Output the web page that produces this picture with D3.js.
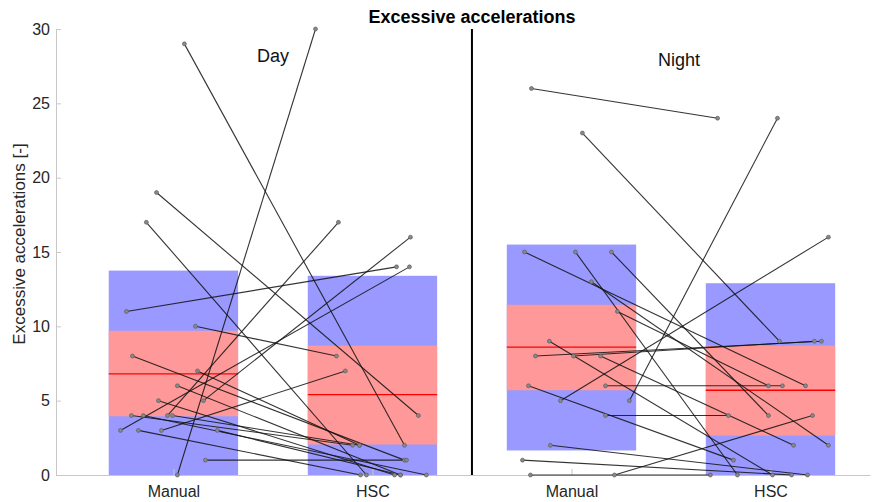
<!DOCTYPE html>
<html lang="en">
<head>
    <meta charset="UTF-8">
    <title>Excessive accelerations</title>
    <style>
        body { margin: 0; background: #fff; }
        #chart-wrapper { width: 877px; height: 502px; }
        text { font-family: 'Liberation Sans', Arial, sans-serif; }
    </style>
</head>
<body>
    <div id="chart-wrapper"></div>

    <script src="https://d3js.org/d3.v7.min.js"></script>
    <script>
        // box summary per column (Day Manual, Day HSC, Night Manual, Night HSC)
        const columns = ['Manual', 'HSC', 'Manual', 'HSC']
        const whiskLow = [0, 0, 1.65, 0]
        const whiskHigh = [13.75, 13.4, 15.5, 12.9]
        const q1 = [3.95, 2.05, 5.7, 2.65]
        const q3 = [9.7, 8.7, 11.45, 8.7]
        const medians = [6.8, 5.4, 8.6, 5.7]

        // paired observations, day
        const dayManual = [29, 19, 17, 11, 10, 8, 7, 6, 5, 5, 4, 4, 4, 4, 3, 3, 3, 3, 1, 0]
        const dayHSC = [2, 4, 0, 14, 8, 1, 2, 0, 16, 0, 2, 0, 17, 2, 14, 0, 7, 0, 1, 30]
        const dayManualJitter = [0.055, -0.085, -0.136, -0.236, 0.111, -0.206, 0.121, 0.02, 0.151, -0.075,
            -0.211, -0.151, -0.03, -0.005, -0.266, -0.176, -0.06, 0.221, 0.161, 0.02]
        const dayHSCJitter = [0.161, 0.231, -0.03, 0.121, -0.181, 0.161, -0.065, 0.141, 0.191, 0.111,
            -0.1, 0.271, -0.171, -0.065, 0.186, -0.06, -0.136, 0.141, 0.171, -0.286]

        // paired observations, night
        const nightManual = [26, 23, 15, 15, 15, 13, 11, 9, 8, 8, 8, 6, 6, 5, 5, 4, 2, 1, 0, 0]
        const nightHSC = [24, 9, 6, 0, 4, 2, 6, 0, 9, 9, 2, 1, 6, 16, 24, 4, 0, 0, 0, 4]
        const nightManualJitter = [-0.201, 0.055, -0.236, 0.02, 0.201, 0.1, 0.231, -0.111, -0.181, 0.01,
            0.146, -0.216, 0.171, -0.055, 0.291, 0.171, -0.106, -0.246, -0.206, 0.216]
        const nightHSCJitter = [-0.266, 0.045, 0.176, -0.166, -0.01, 0.291, -0.01, 0.01, 0.256, 0.221,
            0.116, -0.186, 0.06, 0.291, 0.035, -0.211, 0.186, 0.106, -0.302, 0.211]

        const yTicks = [0, 5, 10, 15, 20, 25, 30]
        const panelLabels = [{ text: 'Day', x: 1.5, y: 27.8 }, { text: 'Night', x: 3.54, y: 27.5 }]

        const width = 877
        const height = 502
        const margin = { top: 29, bottom: 27, left: 56, right: 7 }

        const svg = d3.select('#chart-wrapper')
            .append('svg')
            .attr('width', width)
            .attr('height', height)

        const x = d3.scaleLinear()
            .domain([0.41, 4.5])
            .range([margin.left, width - margin.right])

        const y = d3.scaleLinear()
            .domain([0, 30])
            .range([height - margin.bottom, margin.top])

        const boxW = 0.65

        // boxes
        const boxes = svg.append('g')
        columns.forEach((c, i) => {
            const cx = i + 1
            boxes.append('rect')
                .attr('x', x(cx - boxW / 2))
                .attr('width', x(cx + boxW / 2) - x(cx - boxW / 2))
                .attr('y', y(whiskHigh[i]))
                .attr('height', y(whiskLow[i]) - y(whiskHigh[i]))
                .attr('fill', '#9999ff')
            boxes.append('rect')
                .attr('x', x(cx - boxW / 2))
                .attr('width', x(cx + boxW / 2) - x(cx - boxW / 2))
                .attr('y', y(q3[i]))
                .attr('height', y(q1[i]) - y(q3[i]))
                .attr('fill', '#ff9999')
            boxes.append('line')
                .attr('x1', x(cx - boxW / 2))
                .attr('x2', x(cx + boxW / 2))
                .attr('y1', y(medians[i]))
                .attr('y2', y(medians[i]))
                .attr('stroke', '#ff0000')
                .attr('stroke-width', 1.3)
        })

        // axes
        const xAxis = svg.append('g')
            .attr('transform', `translate(0, ${ y(0) })`)
            .call(d3.axisBottom(x).tickValues([1, 2, 3, 4]).tickFormat((d, i) => columns[i])
                .tickSizeInner(-6).tickSizeOuter(0).tickPadding(11))
        xAxis.select('.domain').attr('stroke', '#c8c8c8')
        xAxis.selectAll('.tick line').attr('stroke', '#c8c8c8')
        xAxis.selectAll('text').attr('font-size', 16).attr('fill', '#262626')

        const yAxis = svg.append('g')
            .attr('transform', `translate(${ margin.left }, 0)`)
            .call(d3.axisLeft(y).tickValues(yTicks).tickSizeInner(-5).tickSizeOuter(0).tickPadding(6))
        yAxis.select('.domain').attr('stroke', '#c8c8c8')
        yAxis.selectAll('.tick line').attr('stroke', '#c8c8c8')
        yAxis.selectAll('text').attr('font-size', 16).attr('fill', '#262626')

        svg.append('text')
            .attr('transform', `translate(25, ${ y(15) - 8 }) rotate(-90)`)
            .attr('text-anchor', 'middle')
            .attr('font-size', 17)
            .attr('fill', '#262626')
            .text('Excessive accelerations [-]')

        // paired lines + points
        function drawPairs(manual, hsc, jm, jh, col) {
            const g = svg.append('g')
            manual.forEach((v, i) => {
                g.append('line')
                    .attr('x1', x(col + jm[i]))
                    .attr('y1', y(v))
                    .attr('x2', x(col + 1 + jh[i]))
                    .attr('y2', y(hsc[i]))
                    .attr('stroke', '#111')
                    .attr('stroke-opacity', 0.85)
                    .attr('stroke-width', 1.1)
            })
            manual.forEach((v, i) => {
                g.append('circle').attr('cx', x(col + jm[i])).attr('cy', y(v)).attr('r', 2)
                    .attr('fill', '#888').attr('stroke', '#555').attr('stroke-width', 0.6)
                g.append('circle').attr('cx', x(col + 1 + jh[i])).attr('cy', y(hsc[i])).attr('r', 2)
                    .attr('fill', '#888').attr('stroke', '#555').attr('stroke-width', 0.6)
            })
        }
        drawPairs(dayManual, dayHSC, dayManualJitter, dayHSCJitter, 1)
        drawPairs(nightManual, nightHSC, nightManualJitter, nightHSCJitter, 3)

        // separator between day and night
        svg.append('line')
            .attr('x1', x(2.5)).attr('x2', x(2.5))
            .attr('y1', y(30)).attr('y2', y(0))
            .attr('stroke', '#000')
            .attr('stroke-width', 2)

        svg.selectAll('.panel-label')
            .data(panelLabels)
            .enter()
            .append('text')
            .attr('class', 'panel-label')
            .attr('x', d => x(d.x))
            .attr('y', d => y(d.y))
            .attr('text-anchor', 'middle')
            .attr('font-size', 18)
            .attr('fill', '#111')
            .text(d => d.text)

        svg.append('text')
            .attr('x', x(2.5))
            .attr('y', 23)
            .attr('text-anchor', 'middle')
            .attr('font-size', 18)
            .attr('font-weight', 'bold')
            .attr('fill', '#000')
            .text('Excessive accelerations')
    </script>
</body>
</html>
